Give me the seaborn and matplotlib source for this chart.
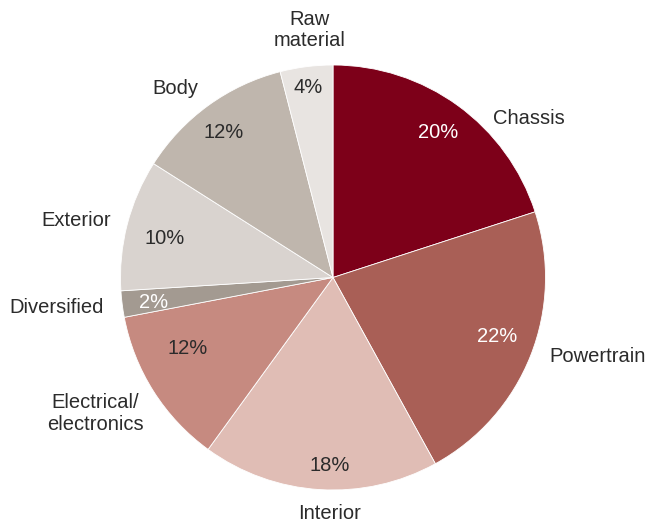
import matplotlib
matplotlib.use("Agg")
import matplotlib.pyplot as plt
import seaborn as sns

sns.set_theme(style="white")
plt.rcParams["font.family"] = ["Liberation Sans", "DejaVu Sans"]

# Share of parts by segment, clockwise from 12 o'clock
segments = ["Chassis", "Powertrain", "Interior", "Electrical/\nelectronics",
            "Diversified", "Exterior", "Body", "Raw\nmaterial"]
shares = [20, 22, 18, 12, 2, 10, 12, 4]
colors = sns.color_palette(["#7d0019", "#a95f56", "#e0bdb5", "#c68a80",
                            "#a39a91", "#d9d3cf", "#bfb6ad", "#e8e4e1"])
pct_colors = ["white", "white", "#2b2b2b", "#2b2b2b",
              "white", "#2b2b2b", "#2b2b2b", "#2b2b2b"]

# Label placement (in units of the pie radius)
name_pos = [(0.92, 0.75), (1.245, -0.373), (-0.014, -1.11), (-1.12, -0.64),
            (-1.30, -0.14), (-1.21, 0.27), (-0.74, 0.89), (-0.11, 1.165)]
pct_pos = [(0.495, 0.68), (0.774, -0.278), (-0.014, -0.887), (-0.684, -0.335),
           (-0.844, -0.118), (-0.792, 0.184), (-0.514, 0.68), (-0.118, 0.892)]

fig = plt.figure(figsize=(6.62, 5.25), dpi=100)
ax = fig.add_axes([0, 0, 1, 1])
ax.pie(shares, colors=colors, startangle=90, counterclock=False, radius=1,
       wedgeprops=dict(edgecolor="white", linewidth=0.6))

for s, c, (x, y) in zip(shares, pct_colors, pct_pos):
    ax.text(x, y, f"{s}%", ha="center", va="center", color=c, fontsize=14.5)
for name, (x, y) in zip(segments, name_pos):
    ax.text(x, y, name, ha="center", va="center", color="#2b2b2b",
            fontsize=14.5, linespacing=1.15)

ax.set_xlim(-333 / 212.5, (662 - 333) / 212.5)
ax.set_ylim(-247.5 / 212.5, 277.5 / 212.5)
ax.set_aspect("equal")
ax.axis("off")
fig.savefig("out.png", dpi=100)
